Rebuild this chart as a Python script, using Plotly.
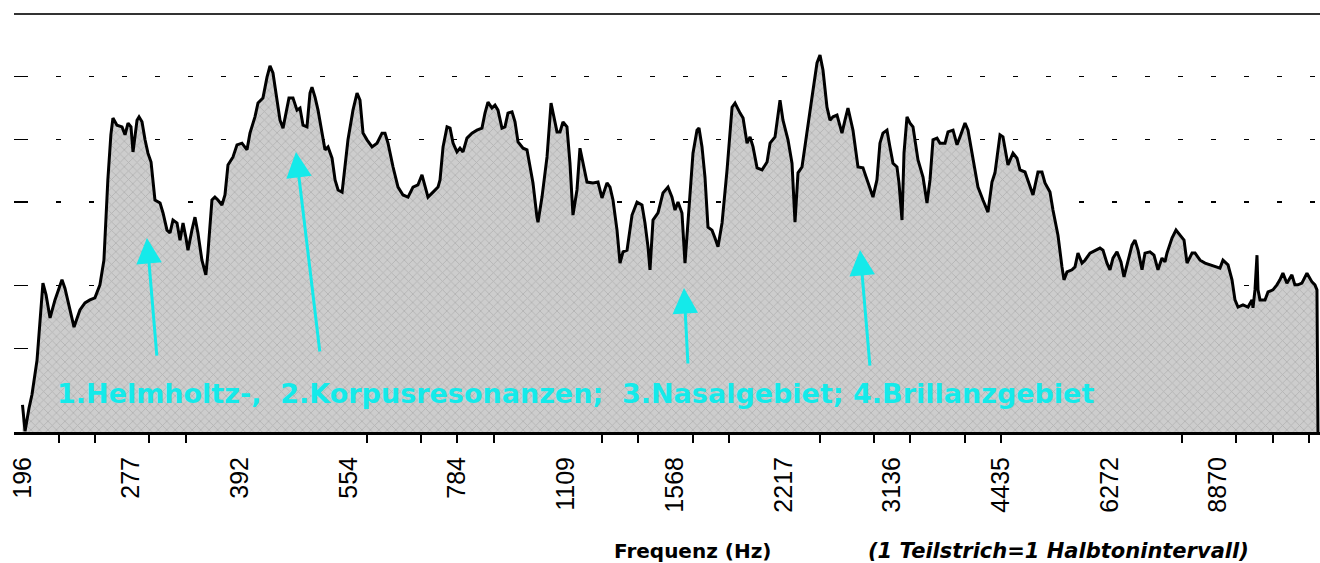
import plotly.graph_objects as go

# ---------------- data ----------------
freq_hz = [
    196.0, 197.6, 200.1, 202.0, 205.3, 207.3, 209.2, 211.3, 214.0, 217.4, 222.3, 224.4, 226.6, 231.0, 235.4, 239.2,
    243.0, 246.9, 250.9, 254.1, 257.3, 259.8, 261.5,
    264.9, 269.2, 271.8, 274.4, 277.0, 278.8, 282.4, 284.2, 286.9, 289.7, 292.4, 295.3, 297.1, 299.0, 303.9, 306.8,
    310.7, 313.7, 316.7, 320.8, 323.9, 327.0, 330.1, 332.2, 336.4, 339.7, 342.9, 347.3, 351.7, 354.0, 358.6, 362.0,
    365.5, 370.2, 373.8, 377.4, 383.5, 388.4,
    394.6, 401.0, 404.8, 411.3, 415.3, 421.9, 427.4, 431.5, 435.6, 441.2, 445.5, 449.8, 455.5, 458.4, 464.3, 470.3,
    474.8, 479.4, 485.5, 490.2, 493.3, 498.1, 502.9, 509.3, 514.2, 519.2, 525.9, 531.0, 536.1, 543.0, 548.2,
    553.3, 562.2, 569.5, 574.9, 580.5, 587.9, 597.4, 607.0, 616.7, 622.6, 628.6, 638.8, 649.0, 659.4, 670.0, 680.8,
    691.5, 700.5, 707.3, 714.1, 725.7, 737.3, 742.0, 749.2, 758.8, 766.1, 773.5,
    783.2, 790.8, 798.4, 808.6, 821.6, 834.8, 848.2, 856.4, 864.6, 875.6, 884.1, 892.6, 904.0, 912.7, 921.5, 933.4,
    942.4, 951.5, 966.8, 979.1, 988.5, 998.0, 1010.8, 1014.1, 1027.1, 1043.7, 1057.1, 1063.8, 1077.5, 1087.8, 1098.2,
    1112.2, 1122.9, 1133.7, 1148.3, 1159.3, 1170.5, 1185.5, 1208.4, 1227.8, 1243.5, 1263.6, 1275.8, 1288.0, 1304.6,
    1317.1, 1329.8, 1347.0, 1368.6, 1390.5, 1412.7, 1426.3, 1440.1, 1449.3, 1463.3, 1486.8, 1510.6, 1534.9, 1554.6,
    1569.5, 1584.6, 1604.8, 1620.4, 1635.9, 1662.2, 1683.6, 1694.4, 1710.7, 1727.0, 1743.6, 1766.0, 1783.0, 1800.2,
    1823.6, 1852.9, 1882.7, 1900.7, 1931.3, 1950.0, 1974.9, 1993.9, 2013.0, 2039.0, 2071.8, 2105.0, 2125.3, 2159.1,
    2193.8,
    2214.6, 2250.3, 2279.2, 2301.1, 2323.3, 2353.0, 2390.9, 2429.3, 2468.3, 2492.0, 2515.8, 2548.1, 2572.7, 2597.4,
    2630.8, 2673.0, 2698.7, 2724.6, 2768.5, 2812.9, 2857.9, 2903.8, 2950.4, 2988.1, 3016.9, 3046.0, 3085.2, 3114.7,
    3145.1, 3185.2, 3205.9, 3236.7, 3257.4, 3288.7, 3320.4, 3352.1, 3406.0, 3460.9, 3505.1, 3539.0, 3572.8, 3618.9,
    3653.7, 3712.4, 3748.1, 3808.4, 3857.3, 3894.3, 3956.7, 3995.0, 4058.9, 4123.8, 4190.0, 4257.4, 4312.0, 4353.4,
    4423.9, 4466.0, 4537.9, 4611.1, 4670.1, 4714.8, 4790.7, 4867.4, 4914.4, 4993.4, 5057.2, 5106.0, 5188.1, 5237.7,
    5322.0, 5390.3, 5424.9, 5477.2, 5565.0, 5618.7, 5672.4, 5745.5, 5801.0, 5894.1, 5989.0, 6084.4, 6143.4, 6222.3,
    6282.0, 6342.2, 6423.8, 6506.0, 6568.7, 6632.0, 6738.6, 6803.2, 6869.1, 6957.5, 7024.0, 7136.3, 7227.9, 7320.7,
    7414.8, 7485.6, 7533.9, 7655.6, 7754.1, 7853.8, 7954.8, 8031.3, 8161.1, 8239.5, 8371.9, 8506.1, 8642.8, 8781.4,
    8921.4, 9006.6, 9152.1, 9269.2, 9357.9, 9448.3, 9600.0, 9754.3, 9879.4, 9910.5, 9974.3, 10038.2, 10070.1,
    10134.9, 10298.1, 10397.4, 10561.5, 10696.3, 10799.2, 10903.0, 11042.3, 11219.7, 11327.0, 11436.1, 11583.3,
    11771.4, 11960.3, 12075.6, 12153.7, 12192.7,
]

level_db = [
    6.5, 0.2, 5.7, 8.9, 17.2, 26.8, 35.6, 32.8, 27.3, 31.6, 36.4, 34.4, 31.1, 25.1, 29.2, 30.9,
    31.6, 32.1, 35.2, 41.1, 60.3, 71.1, 75.1,
    73.4, 73.0, 71.1, 73.9, 73.0, 67.0, 74.6, 75.4, 74.2, 69.9, 66.7, 64.6, 59.1, 55.5, 54.8, 52.4,
    48.3, 47.6, 50.7, 50.0, 45.9, 50.0, 46.4, 43.5, 48.3, 51.4, 47.6, 41.1, 37.6, 42.8, 55.5, 56.2,
    55.5, 54.3, 56.7, 63.9, 65.8, 68.7,
    69.1, 67.5, 71.5, 75.4, 78.7, 79.9, 84.9, 87.6, 85.9, 80.1, 74.6, 72.7, 77.7, 79.9, 79.9, 77.0,
    77.5, 73.4, 73.0, 81.1, 82.5, 80.1, 77.0, 71.5, 67.5, 68.2, 65.5, 60.3, 57.9, 57.4, 63.4,
    69.9, 77.0, 81.1, 79.4, 71.5, 69.9, 68.2, 69.1, 71.5, 71.5, 69.1, 63.4, 58.6, 56.7, 56.2, 58.6,
    59.1, 61.5, 58.6, 56.2, 57.4, 58.6, 60.3, 68.2, 73.0, 72.7, 69.1,
    67.0, 67.9, 67.0, 70.3, 71.5, 72.2, 72.7, 76.3, 78.9, 77.5, 78.2, 77.0, 72.7, 73.0, 76.3, 76.6,
    74.2, 69.4, 67.9, 67.5, 63.4, 59.6, 51.4, 50.2, 56.2, 65.8, 78.7, 76.6, 71.8, 71.8, 74.2,
    73.0, 64.3, 51.9, 57.9, 67.9, 64.6, 59.8, 59.6, 59.8, 56.0, 59.6, 58.6, 55.5, 48.3,
    40.4, 43.1, 43.5, 51.9, 55.0, 54.3, 50.0, 44.3, 38.8, 50.7, 52.4, 57.2, 58.6, 56.2,
    53.1, 55.0, 52.4, 40.4, 50.0, 66.7, 72.2, 72.7, 68.2, 61.0, 49.0, 48.3, 46.4, 44.3,
    50.0, 62.7, 77.7, 78.7, 76.3, 75.1, 69.1, 70.6, 68.2, 63.2, 62.7, 64.6, 69.1, 70.6,
    79.4,
    74.6, 69.9, 64.3, 50.2, 62.0, 63.4, 72.2, 80.1, 88.3, 90.2, 86.6, 77.7, 74.6, 75.4,
    75.8, 71.5, 74.6, 77.5, 72.2, 63.4, 63.2, 59.6, 56.2, 60.3, 69.1, 71.5, 72.2, 68.2,
    64.3, 63.4, 59.6, 50.7, 66.7, 75.4, 73.9, 73.0, 65.1, 61.0, 54.8, 60.3, 69.9, 70.3,
    69.1, 69.1, 71.8, 72.2, 68.7, 70.6, 73.9, 72.2, 65.8, 58.6, 55.5, 52.6, 59.8, 62.0,
    71.1, 70.6, 63.9, 66.7, 65.5, 62.7, 62.2, 58.6, 56.7, 62.2, 62.2, 59.6, 57.4, 53.1,
    47.1, 39.5, 36.4, 38.3, 38.8, 39.5, 42.8, 40.4, 41.1, 42.8, 43.5, 44.0, 43.5, 40.4,
    38.8, 41.6, 43.1, 40.7, 37.1, 39.9, 44.7, 45.9, 43.5, 38.8, 42.8, 43.1, 42.3, 38.8,
    41.6, 40.7, 42.8, 46.4, 48.3, 47.1, 45.9, 40.4, 42.8, 42.8, 41.1, 40.4, 40.0, 39.5,
    39.2, 41.1, 40.0, 36.4, 31.6, 29.9, 30.4, 29.9, 31.6, 29.7, 34.0, 42.3, 34.0,
    31.6, 31.6, 33.5, 34.0, 35.2, 36.4, 38.0, 35.6, 37.6, 35.2, 35.2, 35.6,
    38.0, 35.9, 35.2, 34.0, 0.0,
]
assert len(freq_hz) == len(level_db), (len(freq_hz), len(level_db))

# tick labels every half octave (6 semitones)
label_freqs = [196, 277.2, 392, 554.4, 784, 1108.7, 1568, 2217.5, 3136, 4434.9, 6272, 8869.8]
label_texts = ["196", "277", "392", "554", "784", "1109", "1568", "2217", "3136", "4435", "6272", "8870"]

# visible semitone tick marks ("Teilstriche")
tick_freqs = [220.0, 246.9, 293.7, 329.6, 587.3, 698.5, 784.0, 880.0, 1244.5, 1396.9, 1661.2, 1864.7,
              2489.0, 2960.0, 3322.4, 3951.1, 4434.9, 7902.1, 9397.3, 10548.1, 11839.8]

# dashed level lines
grid_levels = [20, 35, 55, 70, 85]

caption = "1.Helmholtz-,  2.Korpusresonanzen;  3.Nasalgebiet; 4.Brillanzgebiet"
x_title = "Frequenz (Hz)"
x_note = "(1 Teilstrich=1 Halbtonintervall)"

# arrow tips / tails (paper coordinates for tip, pixel offsets for tail)
arrows = [
    dict(x=0.1018, y=0.4641, ax=10, ay=119),
    dict(x=0.2159, y=0.6699, ax=24, ay=201),
    dict(x=0.5130, y=0.3445, ax=4, ay=77),
    dict(x=0.6478, y=0.4354, ax=10, ay=117),
]

# ---------------- figure ----------------
CYAN = "#14eaea"
XRANGE = [2.2805, 4.0889]

fig = go.Figure()
fig.add_trace(go.Scatter(
    x=freq_hz, y=level_db, mode="lines",
    line=dict(color="black", width=3),
    fill="tozeroy",
    fillcolor="#c8c8c8",
    fillpattern=dict(shape="x", bgcolor="#cdcdcd", fgcolor="#969696", size=6, solidity=0.25),
    hoverinfo="skip", showlegend=False,
))
# helper trace for the tick-mark axis
fig.add_trace(go.Scatter(x=tick_freqs, y=[None] * len(tick_freqs), xaxis="x2",
                         mode="lines", showlegend=False, hoverinfo="skip"))

fig.update_layout(
    width=1320, height=563,
    margin=dict(l=14, r=0, t=14, b=131),
    paper_bgcolor="white", plot_bgcolor="white",
    showlegend=False,
    xaxis=dict(
        type="log", range=XRANGE,
        tickmode="array", tickvals=label_freqs, ticktext=label_texts,
        tickangle=-90, ticks="", ticklabelstandoff=12,
        tickfont=dict(family="Liberation Sans, Arial, sans-serif", size=25, color="black"),
        showgrid=False, zeroline=False,
        showline=True, linecolor="black", linewidth=3,
    ),
    xaxis2=dict(
        type="log", range=XRANGE, overlaying="x", anchor="y", side="bottom",
        tickmode="array", tickvals=tick_freqs, showticklabels=False,
        ticks="outside", ticklen=10, tickwidth=2, tickcolor="black",
        showgrid=False, zeroline=False, showline=False,
    ),
    yaxis=dict(
        range=[0, 100], tickmode="array", tickvals=grid_levels,
        showticklabels=False, ticks="inside", ticklen=13, tickwidth=1.5, tickcolor="black",
        showgrid=True, gridcolor="black", gridwidth=1.5, griddash="0px,9.2px,4.6px,19.2px",
        zeroline=False, showline=False,
    ),
)

fig.add_shape(type="line", xref="paper", yref="paper", x0=0, x1=1, y0=1, y1=1,
              line=dict(color="#333333", width=2), layer="above")

fig.add_annotation(text=caption, xref="paper", yref="paper", x=0.0314, y=0.0933,
                   xanchor="left", yanchor="middle", showarrow=False,
                   font=dict(family="DejaVu Sans", size=27, color=CYAN, weight="bold"))

for a in arrows:
    fig.add_annotation(text="", xref="paper", yref="paper", x=a["x"], y=a["y"],
                       ax=a["ax"], ay=a["ay"], showarrow=True,
                       arrowhead=2, arrowsize=1.7, arrowwidth=3, arrowcolor=CYAN, standoff=0)

fig.add_annotation(text="<b>" + x_title + "</b>", xref="paper", yref="paper", x=0.5199, y=-0.2847,
                   xanchor="center", yanchor="middle", showarrow=False,
                   font=dict(family="DejaVu Sans", size=20, color="black"))
fig.add_annotation(text="<b><i>" + x_note + "</i></b>", xref="paper", yref="paper", x=0.6524, y=-0.2847,
                   xanchor="left", yanchor="middle", showarrow=False,
                   font=dict(family="DejaVu Sans", size=21, color="black"))

fig.write_html(
    "out.html",
    config={"displayModeBar": False, "staticPlot": True},
    post_script="document.body.style.margin='0';document.body.style.overflow='hidden';",
)
